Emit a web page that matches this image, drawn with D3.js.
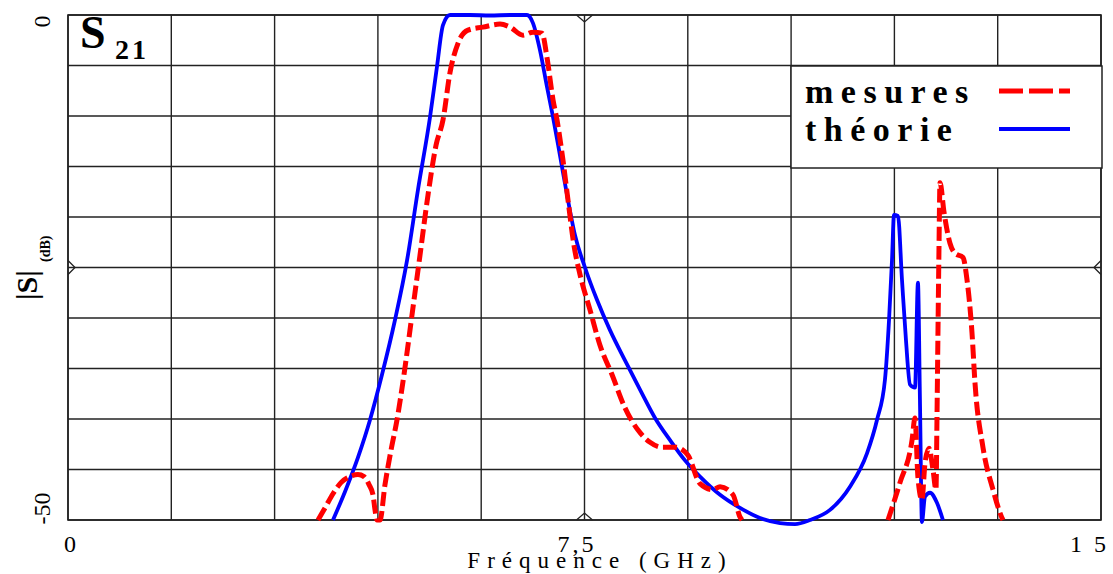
<!DOCTYPE html>
<html>
<head>
<meta charset="utf-8">
<script src="https://cdn.jsdelivr.net/npm/d3@7"></script>
<style>
  html, body { margin: 0; padding: 0; background: #fff; }
  svg { display: block; }
  text { font-family: "Liberation Serif", "Times New Roman", serif; fill: #000; }
</style>
</head>
<body>
<svg id="chart" width="1113" height="574"></svg>
<script>
// ---- data (frequency in GHz, |S21| in dB) ----
const xTickValues = [0, 7.5, 15];
const xTickLabels = ["0", "7,5", "1 5"];
const yTickValues = [0, -50];
const yTickLabels = ["0", "-50"];
const seriesNames = ["mesures", "théorie"];

const theoryFreq = [3.848, 4.022, 4.211, 4.385, 4.560, 4.748, 4.923, 5.082, 5.257, 5.358, 5.445, 5.547, 5.837, 6.128, 6.418, 6.665, 6.752, 6.854, 6.955, 7.043, 7.144, 7.246, 7.362, 7.507, 7.681, 7.870, 8.088, 8.306, 8.524, 8.742, 8.959, 9.177, 9.468, 9.758, 10.048, 10.339, 10.557, 10.775, 11.065, 11.355, 11.602, 11.747, 11.863, 11.922, 11.965, 11.994, 12.052, 12.110, 12.168, 12.227, 12.299, 12.342, 12.371, 12.400, 12.444, 12.517, 12.618, 12.705];
const theoryDb   = [-50.0, -47.2, -43.8, -40.1, -35.6, -30.2, -24.3, -17.3, -10.1, -5.1, -1.0, 0, 0, -0.05, 0, 0, -0.8, -3.5, -7.1, -10.1, -13.9, -17.8, -21.8, -25.0, -28.2, -31.2, -34.2, -37.1, -39.9, -42.1, -44.1, -45.7, -47.5, -48.8, -49.8, -50.3, -50.4, -50.0, -49.0, -46.7, -43.4, -40.1, -36.1, -30.2, -24.3, -19.8, -19.9, -26.2, -32.2, -36.6, -36.9, -26.5, -38.1, -50.2, -47.7, -47.3, -48.3, -50.0];

// measured: null marks a gap where the trace is below the -50 dB floor
const measFreq = [3.630, 3.732, 3.848, 3.964, 4.095, 4.211, 4.298, 4.371, 4.429, 4.458, 4.487, 4.530, 4.603, 4.690, 4.777, 4.879, 4.995, 5.111, 5.228, 5.344, 5.445, 5.547, 5.663, 5.808, 6.026, 6.273, 6.418, 6.607, 6.752, 6.883, 6.955, 7.043, 7.101, 7.188, 7.260, 7.347, 7.435, 7.580, 7.725, 7.899, 8.088, 8.277, 8.451, 8.625, 8.829, 9.003, 9.177, 9.366, 9.468, 9.656, 9.758, 9.787,
  10.8,
  11.907, 12.081, 12.256, 12.299, 12.342, 12.400, 12.444, 12.502, 12.560, 12.604, 12.618, 12.633, 12.647, 12.662, 12.720, 12.807, 12.880, 12.996, 13.054, 13.127, 13.170, 13.286, 13.432, 13.563, 13.577];
const measDb   = [-50.0, -48.8, -47.4, -46.3, -45.7, -45.5, -45.7, -46.5, -47.5, -49.0, -50.0, -50.0, -46.5, -43.1, -40.1, -35.6, -29.7, -23.8, -17.8, -12.9, -10.4, -5.7, -2.8, -1.5, -1.2, -0.9, -1.2, -2.0, -1.7, -1.8, -4.2, -8.4, -10.4, -14.4, -18.3, -22.8, -25.7, -29.2, -32.7, -35.6, -38.9, -41.1, -42.3, -42.8, -42.8, -43.6, -46.4, -47.0, -46.7, -47.5, -49.7, -50.0,
  null,
  -50.0, -46.3, -42.1, -39.9, -45.8, -48.0, -44.4, -42.9, -45.0, -47.0, -40.1, -31.2, -23.3, -16.6, -19.5, -22.6, -23.6, -24.0, -26.2, -31.5, -36.4, -42.8, -47.0, -49.8, -50.0];

// ---- layout ----
const svg = d3.select("#chart");
const L = 68, R = 1101, T = 15, B = 520;
const x = d3.scaleLinear().domain([0, 15]).range([L, R]);
const y = d3.scaleLinear().domain([-50, 0]).range([B, T]);
const gridCol = "#222";

// clip
svg.append("defs").append("clipPath").attr("id", "plotclip")
  .append("rect").attr("x", L).attr("y", T - 2).attr("width", R - L).attr("height", B - T + 8);

// grid
const gx = d3.range(0, 15.0001, 1.5);
const gy = d3.range(-50, 0.0001, 5);
svg.append("g").selectAll("line").data(gx).join("line")
  .attr("x1", d => x(d)).attr("x2", d => x(d)).attr("y1", T).attr("y2", B)
  .attr("stroke", gridCol).attr("stroke-width", 1.4);
svg.append("g").selectAll("line").data(gy).join("line")
  .attr("y1", d => y(d)).attr("y2", d => y(d)).attr("x1", L).attr("x2", R)
  .attr("stroke", gridCol).attr("stroke-width", 1.4);
svg.append("rect").attr("x", L).attr("y", T).attr("width", R - L).attr("height", B - T)
  .attr("fill", "none").attr("stroke", gridCol).attr("stroke-width", 1.6);

// small V marks at the axis midpoints
const mx = x(7.5), my = y(-25);
const marks = [
  [[mx - 8, T], [mx, T + 7], [mx + 8, T]],
  [[mx - 8, B], [mx, B - 7], [mx + 8, B]],
  [[L, my - 7], [L + 7, my], [L, my + 7]],
  [[R, my - 7], [R - 7, my], [R, my + 7]]
];
svg.append("g").selectAll("path").data(marks).join("path")
  .attr("d", d => d3.line()(d)).attr("fill", "none").attr("stroke", gridCol).attr("stroke-width", 1.3);

// axes (labels only)
const xAxis = d3.axisBottom(x).tickValues(xTickValues).tickSize(0)
  .tickFormat((d, i) => xTickLabels[i]);
const gxa = svg.append("g").attr("transform", `translate(0,${B + 12})`).call(xAxis);
gxa.select(".domain").remove();
gxa.selectAll("text").attr("font-size", 24).attr("font-family", "Liberation Serif")
  .attr("fill", "#000").attr("letter-spacing", "3px")
  .attr("dx", (d, i) => [3, -8, -12][i]);

const yAxis = d3.axisLeft(y).tickValues(yTickValues).tickSize(0)
  .tickFormat((d, i) => yTickLabels[i]);
const gya = svg.append("g").attr("transform", `translate(${L},0)`).call(yAxis);
gya.select(".domain").remove();
gya.selectAll("text")
  .attr("font-size", 24).attr("font-family", "Liberation Serif").attr("fill", "#000")
  .attr("x", 0).attr("dy", 0)
  .attr("text-anchor", (d) => d === 0 ? "end" : "start")
  .attr("transform", d => `translate(-18,${d === 0 ? 0 : 4}) rotate(-90)`);

// axis titles
svg.append("text").attr("x", 600).attr("y", 568).attr("text-anchor", "middle")
  .attr("font-size", 23).attr("letter-spacing", "7px").text("Fréquence (GHz)");
const yl = svg.append("g").attr("transform", "translate(37,300) rotate(-90)");
yl.append("text").attr("x", 0).attr("y", 0).attr("font-size", 30).attr("font-weight", "bold").text("|S|");
yl.append("text").attr("x", 38).attr("y", 13).attr("font-size", 14).attr("font-weight", "bold").text("(dB)");

// S21 label
svg.append("text").attr("x", 80).attr("y", 48).attr("font-size", 46).attr("font-weight", "bold").text("S");
svg.append("text").attr("x", 115).attr("y", 59).attr("font-size", 28).attr("font-weight", "bold")
  .attr("letter-spacing", "3px").text("21");

// curves
const theory = theoryFreq.map((f, i) => [f, theoryDb[i]]);
const meas = measFreq.map((f, i) => [f, measDb[i]]);
const line = d3.line().defined(d => d[1] !== null).x(d => x(d[0])).y(d => y(d[1]))
  .curve(d3.curveMonotoneX);
const plot = svg.append("g").attr("clip-path", "url(#plotclip)");
plot.append("path").datum(theory).attr("d", line).attr("fill", "none")
  .attr("stroke", "#0000ff").attr("stroke-width", 3.8).attr("stroke-linejoin", "round");
plot.append("path").datum(meas).attr("d", line).attr("fill", "none")
  .attr("stroke", "#ff0000").attr("stroke-width", 5).attr("stroke-dasharray", "14,5")
  .attr("stroke-linejoin", "miter");

// legend
svg.append("rect").attr("x", 791).attr("y", 66).attr("width", 311).attr("height", 102)
  .attr("fill", "#fff").attr("stroke", gridCol).attr("stroke-width", 1.5);
const legY = [91, 129];
const legStyles = [
  { color: "#ff0000", dash: "24,6", w: 5 },
  { color: "#0000ff", dash: null, w: 4 }
];
seriesNames.forEach((name, i) => {
  svg.append("text").attr("x", 805).attr("y", legY[i] + 12).attr("font-size", 34)
    .attr("font-weight", "bold").attr("letter-spacing", "7.5px").text(name);
  svg.append("line").attr("x1", 999).attr("x2", 1070).attr("y1", legY[i]).attr("y2", legY[i])
    .attr("stroke", legStyles[i].color).attr("stroke-width", legStyles[i].w)
    .attr("stroke-dasharray", legStyles[i].dash);
});
</script>
</body>
</html>
